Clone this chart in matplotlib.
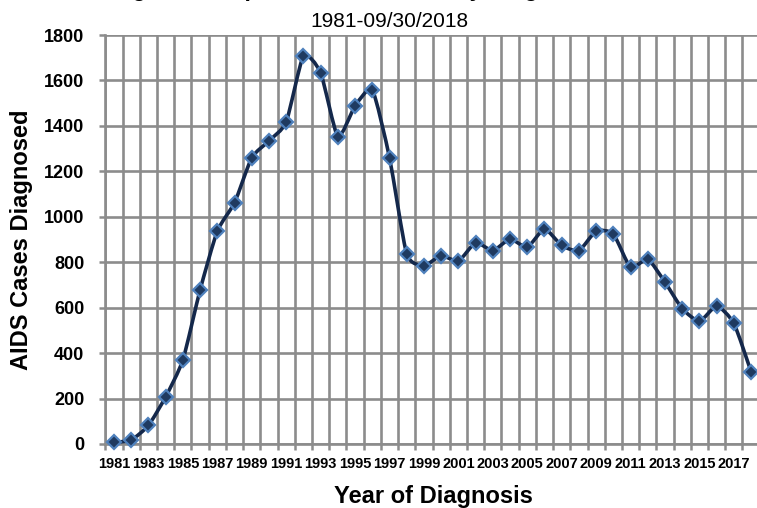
import matplotlib
matplotlib.use("Agg")
import matplotlib.pyplot as plt
from matplotlib.path import Path
from matplotlib.patches import PathPatch
import numpy as np

# reported AIDS cases by year of diagnosis
years = list(range(1981, 2019))
cases = [7, 18, 82, 208, 370, 678, 937, 1062, 1260, 1334,
         1417, 1707, 1634, 1353, 1488, 1558, 1260, 836, 785, 829,
         805, 886, 851, 902, 866, 946, 874, 851, 937, 924,
         777, 813, 712, 596, 540, 607, 531, 318]
tick_labels = [str(y) for y in years[::2]]

TITLE = "Figure 1: Reported AIDS Cases by Diagnosis Year"
SUBTITLE = "1981-09/30/2018"

W, H = 757, 508
GRID = "#8c8c8c"
LINE = "#14284b"
FACE = "#1f3a60"
EDGE = "#4f81bd"
TENSION = 1 / 10  # Excel-like smoothing, kept mild

plt.rcParams["font.family"] = ["Liberation Sans", "DejaVu Sans"]

fig = plt.figure(figsize=(W / 100, H / 100), dpi=100)
ax = fig.add_axes([105.4 / W, 64 / H, 654.3 / W, 409 / H])

x = np.arange(len(years))
y = np.array(cases, dtype=float)

# smoothed line drawn as cubic bezier through the data points
verts = [(x[0], y[0])]
codes = [Path.MOVETO]
n = len(x)
for i in range(n - 1):
    a, b = max(i - 1, 0), min(i + 2, n - 1)
    c1 = (x[i] + (x[i + 1] - x[a]) * TENSION, y[i] + (y[i + 1] - y[a]) * TENSION)
    c2 = (x[i + 1] - (x[b] - x[i]) * TENSION, y[i + 1] - (y[b] - y[i]) * TENSION)
    verts += [c1, c2, (x[i + 1], y[i + 1])]
    codes += [Path.CURVE4] * 3
ax.add_patch(PathPatch(Path(verts, codes), facecolor="none", edgecolor=LINE,
                       lw=2.6, zorder=3, capstyle="round", joinstyle="round"))
ax.plot(x, y, linestyle="none", marker="D", markersize=7.5, markerfacecolor=FACE,
        markeredgecolor=EDGE, markeredgewidth=1.6, zorder=4, clip_on=False)

ax.set_xlim(-0.5, n - 0.5)
ax.set_ylim(0, 1800)

# category axis: labels at every other year, gridlines between categories
ax.set_xticks(x[::2])
ax.set_xticklabels(tick_labels, fontsize=10.5, fontweight="bold")
ax.set_xticks(np.arange(-0.5, n), minor=True)
ax.tick_params(axis="x", which="major", length=0, pad=9.5)
ax.tick_params(axis="x", which="minor", length=4, width=1.8, color=GRID, direction="out")
ax.grid(True, axis="x", which="minor", color=GRID, lw=1.9)

ax.set_yticks(range(0, 1801, 200))
ax.set_yticklabels([str(v) for v in range(0, 1801, 200)], fontsize=13, fontweight="bold")
ax.tick_params(axis="y", length=4.3, width=1.8, color=GRID, pad=11)
ax.grid(True, axis="y", color=GRID, lw=1.9)
ax.set_axisbelow(True)

for side in ["top", "right"]:
    ax.spines[side].set_visible(False)
for side in ["left", "bottom"]:
    ax.spines[side].set_color(GRID)
    ax.spines[side].set_linewidth(1.9)

# title is cropped at the top edge in the source, only descenders show
fig.text(382 / W, 1 + 4 / H, TITLE, fontsize=16.5, fontweight="bold",
         ha="center", va="baseline")
fig.text(389 / W, 1 - 27 / H, SUBTITLE, fontsize=15, ha="center", va="baseline")
fig.text(433 / W, 5 / H, "Year of Diagnosis", fontsize=17, fontweight="bold",
         ha="center", va="baseline")
fig.text(22 / W, (64 + 409 / 2) / H, "AIDS Cases Diagnosed", fontsize=17,
         fontweight="bold", rotation=90, ha="center", va="center")

fig.savefig("out.png", dpi=100, facecolor="white")
